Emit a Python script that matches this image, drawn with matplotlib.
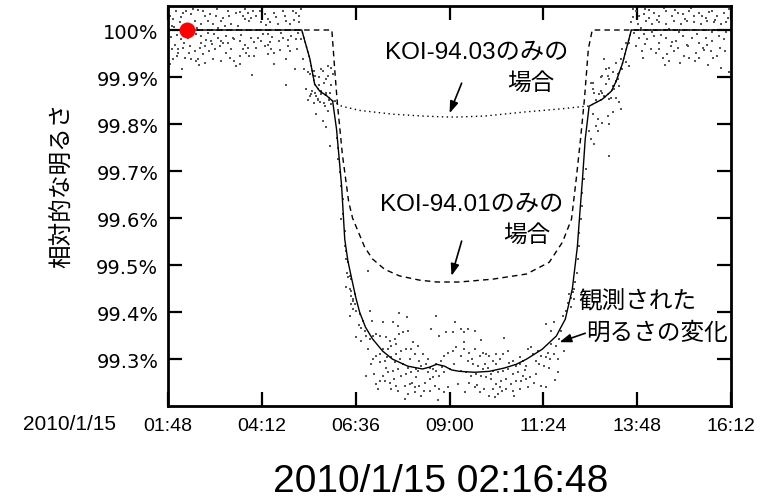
import numpy as np
import matplotlib.pyplot as plt

plt.rcParams['font.family'] = ['Noto Sans CJK JP', 'DejaVu Sans']
LATIN = ['Liberation Sans', 'Noto Sans CJK JP']

# 観測データ: 時刻[h], 相対的な明るさ[%]
# トランジット前
pre_t = [1.93, 2.01, 2.18, 2.27, 2.40, 2.57, 2.74, 2.82, 2.95, 3.03, 3.16, 3.33, 3.42, 3.54, 3.63,
         3.76, 3.88, 3.97, 4.06, 4.35, 4.40, 4.52, 4.74, 4.82, 4.99, 5.08, 5.16, 4.91, 4.61, 4.18,
         3.08, 3.25, 2.82, 2.65, 2.52, 2.31, 2.14, 1.97, 1.89, 2.06, 2.18, 2.35, 2.48, 2.65, 2.74,
         2.91, 3.08, 3.16, 2.99, 2.86, 2.69, 2.57, 2.40, 2.23, 1.93, 1.84, 2.06,
         3.50, 3.63, 3.76, 3.84, 3.93, 4.10, 4.18, 4.27, 4.35, 4.44, 4.52, 4.65, 4.74, 4.86, 4.95,
         5.08, 5.12, 4.69, 4.35, 4.06, 3.88, 3.63, 3.50, 3.42, 3.33, 3.20, 3.29, 3.16, 2.95, 2.74,
         2.52, 4.52, 4.82, 4.35, 3.54, 2.10, 2.48, 2.65, 3.76, 4.27, 5.16, 3.84, 1.89]
pre_f = [100.023, 100.040, 100.037, 100.040, 100.033, 100.042, 100.030, 100.019, 100.012, 100.030,
         100.019, 100.040, 100.012, 100.037, 100.038, 100.023, 100.019, 100.040, 100.030, 100.023,
         100.016, 100.037, 100.040, 100.019, 100.040, 100.037, 100.016, 100.012, 100.012, 100.016,
         100.005, 100.008, 99.994, 99.987, 99.991, 99.984, 99.980, 99.969, 99.959, 99.959, 99.962,
         99.966, 99.955, 99.973, 99.966, 99.977, 99.984, 99.977, 99.959, 99.955, 99.948, 99.938,
         99.938, 99.941, 99.938, 99.927, 99.952,
         99.980, 99.977, 99.969, 99.962, 99.984, 99.984, 99.977, 99.966, 99.969, 99.959, 99.952,
         99.977, 99.984, 99.966, 99.987, 99.980, 99.994, 99.994, 99.991, 99.962, 99.945, 99.945,
         99.934, 99.959, 99.973, 99.973, 99.952, 99.934, 99.938, 99.930, 99.934, 99.927, 99.938,
         99.948, 99.923, 100.016, 100.019, 100.012, 100.044, 100.033, 100.030, 100.037, 100.008]
pre2_t = [1.86, 1.95, 2.04, 2.12, 2.21, 2.29, 2.38, 2.44, 2.55, 2.61, 2.70, 2.78, 2.88, 2.97, 3.05,
          3.12, 3.21, 3.28, 3.37, 3.45, 3.58, 3.67, 3.71, 3.80, 3.92, 4.01, 4.14, 4.22, 4.31, 4.47,
          4.57, 4.66, 4.78, 4.88, 5.02, 5.10, 5.19, 1.88, 2.02, 2.33, 2.60, 2.93, 3.38, 3.72, 4.00,
          4.42, 4.92, 5.05, 3.96, 2.15, 5.20, 3.64]
pre2_f = [100.030, 100.006, 99.990, 100.028, 99.972, 100.012, 99.990, 100.045, 100.004, 99.962,
          100.040, 99.978, 100.035, 99.992, 100.044, 99.965, 100.025, 99.988, 100.030, 99.983,
          100.008, 99.990, 100.030, 99.952, 100.026, 99.975, 100.041, 99.992, 100.010, 99.985,
          100.028, 99.958, 100.030, 99.978, 100.022, 99.960, 100.045, 99.985, 99.945, 99.952,
          99.925, 99.970, 99.940, 99.960, 99.945, 99.975, 99.955, 99.918, 99.905, 99.917, 99.980,
          99.928]

# 減光開始
ing_t = [5.25, 5.29, 5.42, 5.54, 5.67, 5.76, 5.88, 5.97, 6.01, 5.80, 5.97, 5.67, 5.33, 5.46, 5.59,
         5.71, 5.84, 5.93, 6.06, 5.80, 5.54, 5.63, 4.82, 5.37,
         5.38, 5.55, 5.72, 5.85, 5.89, 6.02, 5.47, 5.42, 5.55, 5.64, 5.72, 5.85, 5.94, 5.68, 5.81,
         5.89, 5.98, 5.59, 5.77, 5.85, 5.94, 6.11, 6.15, 6.15, 6.19, 6.23, 6.28, 6.28, 6.32, 6.32,
         6.36, 6.39, 6.40, 6.45, 6.49, 6.53, 6.57,
         6.23, 6.32, 6.36, 6.40, 6.45, 6.49, 6.91, 6.36]
ing_f = [99.938, 99.916, 99.906, 99.913, 99.899, 99.913, 99.902, 99.920, 99.906, 99.888, 99.884,
         99.884, 99.874, 99.863, 99.860, 99.870, 99.863, 99.852, 99.849, 99.845, 99.845, 99.852,
         99.884, 99.852,
         99.910, 99.903, 99.917, 99.895, 99.924, 99.906, 99.871, 99.860, 99.867, 99.853, 99.864,
         99.867, 99.867, 99.846, 99.839, 99.828, 99.842, 99.821, 99.807, 99.793, 99.754, 99.771,
         99.750, 99.725, 99.697, 99.669, 99.640, 99.608, 99.573, 99.541, 99.513, 99.484, 99.474,
         99.449, 99.435, 99.424, 99.417,
         99.598, 99.541, 99.531, 99.506, 99.477, 99.470, 99.488, 99.453]

# 底 (前半)
bot1_t = [6.49, 6.57, 6.53, 6.49, 6.53, 6.62, 6.45, 6.70, 6.79, 6.96, 6.74, 6.83, 6.87, 6.62, 6.74,
          6.96, 7.04, 7.13, 7.21, 7.30, 7.55, 7.68, 7.72, 7.38, 7.47, 7.60, 7.72, 7.81, 7.94, 7.64,
          7.51, 7.43, 7.30, 7.21, 7.13, 7.04, 7.00, 7.21, 7.34, 7.51, 7.64, 7.77, 7.89, 8.02, 8.11,
          8.19, 7.98, 7.81, 7.68, 7.55, 7.43, 7.30, 7.77, 7.89, 8.02, 8.15, 8.28, 8.40, 8.49, 8.57,
          8.66, 8.79, 8.87, 8.96, 9.08, 9.17, 9.00, 8.87, 8.74, 8.66, 8.49, 8.36, 8.23, 8.11, 7.98,
          7.85, 7.64, 7.47, 7.34, 7.21, 7.51, 7.68, 7.94, 8.11, 8.28, 8.49, 8.62, 8.74, 8.87, 6.87,
          7.13, 8.45, 8.66, 8.91, 8.53, 8.74, 9.08, 9.13, 8.06, 8.32, 8.23, 7.94, 7.60, 7.38, 8.15]
bot1_f = [99.445, 99.438, 99.428, 99.417, 99.406, 99.403, 99.392, 99.396, 99.382, 99.403, 99.367,
          99.360, 99.350, 99.346, 99.339, 99.343, 99.350, 99.353, 99.350, 99.378, 99.378, 99.371,
          99.399, 99.346, 99.339, 99.343, 99.353, 99.357, 99.360, 99.332, 99.328, 99.321, 99.321,
          99.311, 99.307, 99.300, 99.289, 99.293, 99.297, 99.304, 99.311, 99.318, 99.321, 99.321,
          99.311, 99.328, 99.300, 99.289, 99.279, 99.275, 99.272, 99.265, 99.265, 99.268, 99.272,
          99.279, 99.286, 99.289, 99.282, 99.279, 99.289, 99.297, 99.307, 99.314, 99.318, 99.325,
          99.279, 99.272, 99.265, 99.275, 99.258, 99.250, 99.243, 99.240, 99.247, 99.243, 99.243,
          99.250, 99.254, 99.254, 99.236, 99.233, 99.226, 99.229, 99.222, 99.233, 99.243, 99.236,
          99.229, 99.265, 99.247, 99.272, 99.392, 99.357, 99.364, 99.350, 99.357, 99.378, 99.336,
          99.311, 99.297, 99.282, 99.293, 99.282, 99.261]

# 底 (後半)
bot2_t = [12.06, 12.19, 12.11, 11.98, 11.89, 11.68, 11.60, 11.47, 11.81, 11.72, 11.60, 11.68, 11.77,
          11.51, 11.47, 11.34, 11.30, 11.21, 11.13, 11.09, 11.00, 10.87, 10.96, 10.79, 10.70, 10.62,
          10.49, 10.36, 10.28, 10.19, 10.11, 10.02, 9.94, 9.85, 9.77, 9.64, 9.51, 9.38, 9.30, 9.47,
          9.60, 9.72, 9.85, 9.98, 10.11, 10.23, 10.36, 10.49, 10.62, 10.74, 10.87, 10.96, 10.83,
          10.70, 10.57, 10.45, 10.32, 10.19, 10.06, 9.94, 9.81, 9.68, 9.55, 9.43, 9.30, 9.38, 9.47,
          9.64, 11.21, 11.17, 11.00, 10.79, 10.62, 10.45, 10.28, 10.11, 10.02, 10.15, 10.23, 9.89,
          9.77, 9.64, 9.51, 11.34, 11.47, 11.77, 11.55, 9.38, 9.30]
bot2_f = [99.438, 99.428, 99.410, 99.403, 99.392, 99.378, 99.360, 99.375, 99.343, 99.328, 99.332,
          99.311, 99.300, 99.314, 99.304, 99.307, 99.289, 99.297, 99.311, 99.325, 99.321, 99.297,
          99.286, 99.289, 99.286, 99.297, 99.318, 99.311, 99.300, 99.289, 99.297, 99.307, 99.311,
          99.314, 99.307, 99.321, 99.314, 99.321, 99.307, 99.297, 99.289, 99.286, 99.279, 99.282,
          99.275, 99.272, 99.275, 99.279, 99.268, 99.272, 99.265, 99.258, 99.254, 99.254, 99.247,
          99.258, 99.254, 99.247, 99.258, 99.261, 99.265, 99.268, 99.265, 99.272, 99.275, 99.357,
          99.364, 99.360, 99.268, 99.250, 99.240, 99.236, 99.233, 99.236, 99.240, 99.236, 99.222,
          99.219, 99.226, 99.236, 99.229, 99.240, 99.250, 99.243, 99.240, 99.272, 99.282, 99.336,
          99.364]
bot3_t = [6.68, 6.92, 7.08, 7.18, 7.40, 7.58, 7.73, 7.85, 8.05, 8.20, 8.35, 8.44, 8.58, 8.70, 8.82,
          8.95, 9.12, 9.22, 9.40, 9.58, 9.70, 9.90, 10.05, 10.18, 10.34, 10.52, 10.66, 10.80, 10.92,
          11.06, 11.26, 11.42, 11.58, 11.70, 11.85, 11.92, 7.02, 7.90, 10.40, 9.80]
bot3_f = [99.372, 99.322, 99.268, 99.236, 99.305, 99.258, 99.300, 99.215, 99.250, 99.275, 99.232,
          99.300, 99.262, 99.212, 99.283, 99.240, 99.290, 99.248, 99.230, 99.300, 99.245, 99.290,
          99.268, 99.310, 99.232, 99.292, 99.222, 99.305, 99.276, 99.262, 99.318, 99.285, 99.300,
          99.255, 99.360, 99.318, 99.380, 99.390, 99.345, 99.340]

# 増光
egr_t = [13.51, 13.59, 13.42, 13.30, 13.17, 13.00, 12.91, 13.08, 13.25, 13.34, 13.21, 13.00, 12.87,
         12.66, 12.70, 12.83, 12.96, 13.08, 13.25, 13.34, 13.38, 13.17, 13.04, 13.08, 12.91, 12.79,
         12.66, 12.74, 12.79, 12.57, 12.62, 12.70, 13.08, 12.49, 12.45, 12.40, 12.39, 12.36, 12.32,
         12.30, 12.28, 12.25, 12.22, 12.19, 12.15, 12.11, 12.02,
         13.51, 13.42, 13.38, 13.25, 13.08, 13.04, 12.96, 12.87, 13.17, 13.30, 13.13, 12.91, 12.74,
         12.66, 12.62]
egr_f = [99.931, 99.924, 99.917, 99.906, 99.910, 99.917, 99.903, 99.895, 99.892, 99.881, 99.874,
         99.885, 99.871, 99.888, 99.867, 99.864, 99.860, 99.853, 99.856, 99.846, 99.832, 99.825,
         99.817, 99.800, 99.803, 99.810, 99.821, 99.796, 99.786, 99.786, 99.768, 99.757, 99.732,
         99.704, 99.683, 99.654, 99.626, 99.598, 99.569, 99.541, 99.513, 99.484, 99.463, 99.449,
         99.442, 99.431, 99.420,
         99.973, 99.959, 99.938, 99.930, 99.920, 99.902, 99.938, 99.899, 99.881, 99.895, 99.856,
         99.867, 99.852, 99.874, 99.888]

# トランジット後
post_t = [13.77, 13.85, 13.98, 14.11, 14.23, 14.36, 14.53, 14.70, 14.83, 14.96, 15.13, 15.25, 15.38,
          15.55, 15.72, 15.85, 16.02, 16.11, 13.64, 13.81, 14.02, 14.19, 14.36, 14.53, 14.74, 14.91,
          15.08, 15.25, 15.42, 15.59, 15.77, 15.94, 16.06, 13.72, 13.85, 13.98, 14.06, 14.23, 14.36,
          14.53, 14.66, 14.79, 14.96, 15.08, 15.21, 15.38, 15.55, 15.72, 15.89, 16.02, 14.15, 14.36,
          14.57, 14.74, 15.00, 15.13, 15.30, 15.47, 15.68, 15.85, 14.62, 15.94, 13.77, 13.59, 13.93,
          15.38, 14.27, 14.83, 15.59]
post_f = [100.040, 100.030, 100.033, 100.026, 100.037, 100.030, 100.040, 100.030, 100.037, 100.033,
          100.040, 100.030, 100.037, 100.026, 100.040, 100.030, 100.037, 100.026, 100.016, 100.012,
          100.019, 100.012, 100.016, 100.012, 100.019, 100.012, 100.019, 100.016, 100.012, 100.019,
          100.016, 100.012, 100.016, 99.994, 99.984, 99.991, 99.980, 99.987, 99.973, 99.984, 99.966,
          99.977, 99.987, 99.969, 99.984, 99.973, 99.984, 99.977, 99.987, 99.980, 99.959, 99.959,
          99.948, 99.955, 99.945, 99.941, 99.952, 99.962, 99.955, 99.945, 99.934, 99.920, 99.966,
          99.973, 99.955, 99.941, 99.952, 99.962, 99.969]
post2_t = [13.70, 13.90, 14.00, 14.09, 14.17, 14.30, 14.42, 14.48, 14.60, 14.68, 14.77, 14.88, 15.02,
           15.10, 15.18, 15.33, 15.45, 15.52, 15.63, 15.70, 15.80, 15.92, 16.08, 16.15, 14.46, 14.90,
           15.28, 15.75, 16.05, 13.95, 14.50, 15.60, 16.14, 13.68, 14.00]
post2_f = [100.045, 100.005, 99.970, 100.042, 99.995, 100.022, 99.990, 100.046, 100.002, 99.975,
           100.042, 99.995, 100.024, 99.965, 100.046, 99.992, 100.030, 99.958, 100.038, 99.995,
           100.022, 99.962, 99.995, 100.044, 99.940, 99.930, 99.935, 99.940, 99.955, 99.940, 99.925,
           99.925, 99.910, 100.028, 100.045]

# モデル曲線
obs_t = [1.8, 5.22, 5.43, 5.55, 5.68, 5.86, 6.01, 6.11, 6.24, 6.32, 6.40, 6.50, 6.60, 6.70, 6.85,
         7.03, 7.29, 7.54, 7.93, 8.31, 8.49, 8.67, 8.87, 9.05, 9.25, 9.64, 10.02, 10.40, 10.71,
         10.97, 11.37, 11.73, 11.96, 12.14, 12.27, 12.34, 12.40, 12.47, 12.57, 12.91, 13.14, 13.26,
         13.42, 13.65, 16.2]
obs_f = [100.0, 100.0, 99.938, 99.885, 99.870, 99.860, 99.849, 99.789, 99.668, 99.555, 99.509,
         99.470, 99.432, 99.400, 99.368, 99.343, 99.317, 99.300, 99.285, 99.279, 99.283, 99.289,
         99.285, 99.277, 99.274, 99.272, 99.274, 99.281, 99.289, 99.300, 99.321, 99.349, 99.385,
         99.449, 99.540, 99.619, 99.683, 99.768, 99.838, 99.853, 99.870, 99.891, 99.928, 100.0, 100.0]

k03_t = [1.8, 5.22, 5.43, 5.55, 5.68, 5.86, 6.01, 6.24, 6.70, 7.54, 8.30, 8.92, 9.25, 9.90, 10.97,
         11.81, 12.50, 12.57, 12.91, 13.14, 13.26, 13.42, 13.65, 16.2]
k03_f = [100.0, 100.0, 99.938, 99.885, 99.870, 99.860, 99.849, 99.838, 99.829, 99.821, 99.817,
         99.815, 99.815, 99.817, 99.826, 99.832, 99.838, 99.838, 99.853, 99.870, 99.891, 99.928,
         100.0, 100.0]

k01_t = [1.8, 5.99, 6.06, 6.13, 6.26, 6.42, 6.52, 6.65, 6.83, 7.03, 7.34, 7.72, 8.23, 8.67, 9.25,
         10.10, 10.97, 11.55, 11.89, 12.12, 12.24, 12.35, 12.45, 12.55, 12.65, 16.2]
k01_f = [100.0, 100.0, 99.920, 99.845, 99.735, 99.635, 99.600, 99.574, 99.538, 99.513, 99.491,
         99.477, 99.468, 99.464, 99.464, 99.470, 99.481, 99.506, 99.549, 99.598, 99.683, 99.768,
         99.853, 99.960, 100.0, 100.0]

now_t = 2.28   # 02:16:48
now_f = 100.0

xticks = [1.8, 4.2, 6.6, 9.0, 11.4, 13.8, 16.2]
xlabels = ['01:48', '04:12', '06:36', '09:00', '11:24', '13:48', '16:12']
yticks = [99.3, 99.4, 99.5, 99.6, 99.7, 99.8, 99.9, 100.0]
ylabels = ['99.3%', '99.4%', '99.5%', '99.6%', '99.7%', '99.8%', '99.9%', '100%']

fig = plt.figure(figsize=(7.64, 5.02), dpi=100)
ax = fig.add_axes([0.2199, 0.189, 0.737, 0.797])

for t, f in [(pre_t, pre_f), (pre2_t, pre2_f), (ing_t, ing_f), (bot1_t, bot1_f),
             (bot2_t, bot2_f), (bot3_t, bot3_f), (egr_t, egr_f), (post_t, post_f),
             (post2_t, post2_f)]:
    ax.plot(t, f, 's', ms=2.1, mew=0, color='#555555')

ax.plot(k03_t, k03_f, color='black', lw=1.0, linestyle=(0, (1, 2.5)))
ax.plot(k01_t, k01_f, color='black', lw=1.0, linestyle=(0, (4, 3)))
ax.plot(obs_t, obs_f, color='black', lw=1.0)
ax.plot(now_t, now_f, 'o', color='red', ms=11.5, mew=0, zorder=5)

ax.set_xlim(1.8, 16.2)
ax.set_ylim(99.2, 100.051)
ax.set_xticks(xticks)
ax.set_xticklabels(xlabels, family=['Liberation Sans'], fontsize=14)
ax.set_yticks(yticks)
ax.set_yticklabels(ylabels, family=['DejaVu Sans'], fontsize=14)
ax.tick_params(direction='in', length=10, width=1.6, top=True, right=True)
ax.tick_params(axis='x', pad=8)
ax.tick_params(axis='y', pad=7)
for s in ax.spines.values():
    s.set_linewidth(2.0)

# 注釈
fs = 17
ax.text(9.69, 99.953, 'KOI-94.03のみの', fontsize=17.5, family=LATIN, ha='center', va='center')
ax.text(11.07, 99.889, '場合', fontsize=fs, ha='center', va='center')
ax.text(9.56, 99.630, 'KOI-94.01のみの', fontsize=17.5, family=LATIN, ha='center', va='center')
ax.text(10.97, 99.566, '場合', fontsize=fs, ha='center', va='center')
ax.text(13.80, 99.423, '観測された', fontsize=fs, ha='center', va='center')
ax.text(14.31, 99.357, '明るさの変化', fontsize=fs, ha='center', va='center')

ap = dict(arrowstyle='-|>,head_width=0.25,head_length=0.7', color='black', lw=1.2,
          shrinkA=0, shrinkB=0)
ax.annotate('', xy=(9.0, 99.823), xytext=(9.31, 99.887), arrowprops=ap)
ax.annotate('', xy=(9.05, 99.477), xytext=(9.31, 99.551), arrowprops=ap)
ax.annotate('', xy=(11.81, 99.336), xytext=(12.47, 99.355), arrowprops=ap)

fig.text(63 / 764, 1 - 185 / 502, '相対的な明るさ', rotation=90, ha='center', va='center',
         fontsize=fs)
fig.text(70 / 764, 1 - 424 / 502, '2010/1/15', ha='center', va='center',
         family=['Liberation Sans'], fontsize=15)
fig.text(441 / 764, 1 - 492 / 502, '2010/1/15 02:16:48', ha='center', va='baseline',
         family=['Liberation Sans'], fontsize=28)

fig.savefig('out.png', dpi=100)
